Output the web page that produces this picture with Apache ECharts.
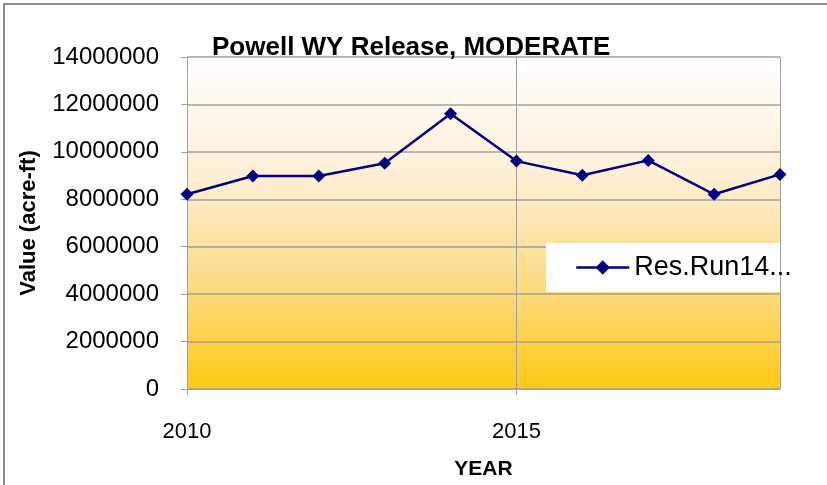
<!DOCTYPE html>
<html>
<head>
<meta charset="utf-8">
<script src="https://cdn.jsdelivr.net/npm/echarts@6/dist/echarts.min.js"></script>
<style>
  html, body { margin: 0; padding: 0; background: #fff; }
  #chart { width: 827px; height: 485px; }
</style>
</head>
<body>
<div id="chart"></div>
<script>
// values
const years = [2010, 2011, 2012, 2013, 2014, 2015, 2016, 2017, 2018, 2019]
const release = [8210000, 8980000, 8980000, 9520000, 11610000, 9610000, 9010000, 9640000, 8210000, 9050000]
const seriesName = 'Res.Run14...'

const font = '"Liberation Sans", Arial, sans-serif'

const chart = echarts.init(document.getElementById('chart'))
chart.setOption({
  animation: false,
  textStyle: { fontFamily: font },
  graphic: [
    {
      type: 'rect',
      shape: { x: 4, y: 4, width: 840, height: 500 },
      style: { fill: 'none', stroke: '#8c8c8c', lineWidth: 2 },
      z: -10
    },
    {
      // white legend box
      type: 'rect',
      shape: { x: 546, y: 243, width: 234, height: 49 },
      style: { fill: '#fff' },
      z: 5
    }
  ],
  title: {
    text: 'Powell WY Release, MODERATE',
    left: 212,
    top: 35,
    padding: 0,
    textStyle: { fontFamily: font, fontSize: 26, fontWeight: 'bold', color: '#000' }
  },
  legend: {
    left: 546,
    top: 243,
    padding: [10, 0, 10, 29],
    itemWidth: 53,
    itemHeight: 18,
    itemGap: 6,
    z: 10,
    lineStyle: { width: 2.5 },
    textStyle: { fontFamily: font, fontSize: 27, lineHeight: 29, color: '#000' },
    data: [seriesName]
  },
  grid: {
    left: 187,
    right: 47,
    top: 57,
    bottom: 95,
    show: true,
    borderWidth: 0,
    backgroundColor: new echarts.graphic.LinearGradient(0, 0, 0, 1, [
      { offset: 0, color: '#ffffff' },
      { offset: 0.35, color: '#feefd6' },
      { offset: 0.7, color: '#fdda80' },
      { offset: 1, color: '#ffc914' }
    ])
  },
  xAxis: {
    type: 'value',
    min: 2010,
    max: 2019,
    interval: 5,
    name: 'YEAR',
    nameLocation: 'middle',
    nameGap: 70,
    nameTextStyle: { fontFamily: font, fontSize: 21, fontWeight: 'bold', color: '#000' },
    axisLine: { show: true, lineStyle: { color: '#a0a0a0', width: 1 } },
    axisTick: { show: true, length: 6, lineStyle: { color: '#a0a0a0' } },
    axisLabel: { fontFamily: font, fontSize: 22, color: '#000', margin: 32, showMaxLabel: false, formatter: v => String(v) },
    splitLine: { show: true, lineStyle: { color: '#a0a0a0', width: 1 } }
  },
  yAxis: {
    type: 'value',
    min: 0,
    max: 14000000,
    interval: 2000000,
    name: 'Value (acre-ft)',
    nameLocation: 'middle',
    nameGap: 147,
    nameTextStyle: { fontFamily: font, fontSize: 22, fontWeight: 'bold', color: '#000' },
    axisLine: { show: true, lineStyle: { color: '#a0a0a0', width: 1 } },
    axisTick: { show: true, length: 6, lineStyle: { color: '#a0a0a0' } },
    axisLabel: { fontFamily: font, fontSize: 24, color: '#000', margin: 28, formatter: v => String(v) },
    splitLine: { show: true, lineStyle: { color: '#a0a0a0', width: 1.5 } }
  },
  series: [
    {
      name: seriesName,
      type: 'line',
      data: years.map((y, i) => [y, release[i]]),
      symbol: 'diamond',
      symbolSize: 13,
      lineStyle: { color: '#000080', width: 2.5 },
      itemStyle: { color: '#000080' }
    }
  ]
})
</script>
</body>
</html>
